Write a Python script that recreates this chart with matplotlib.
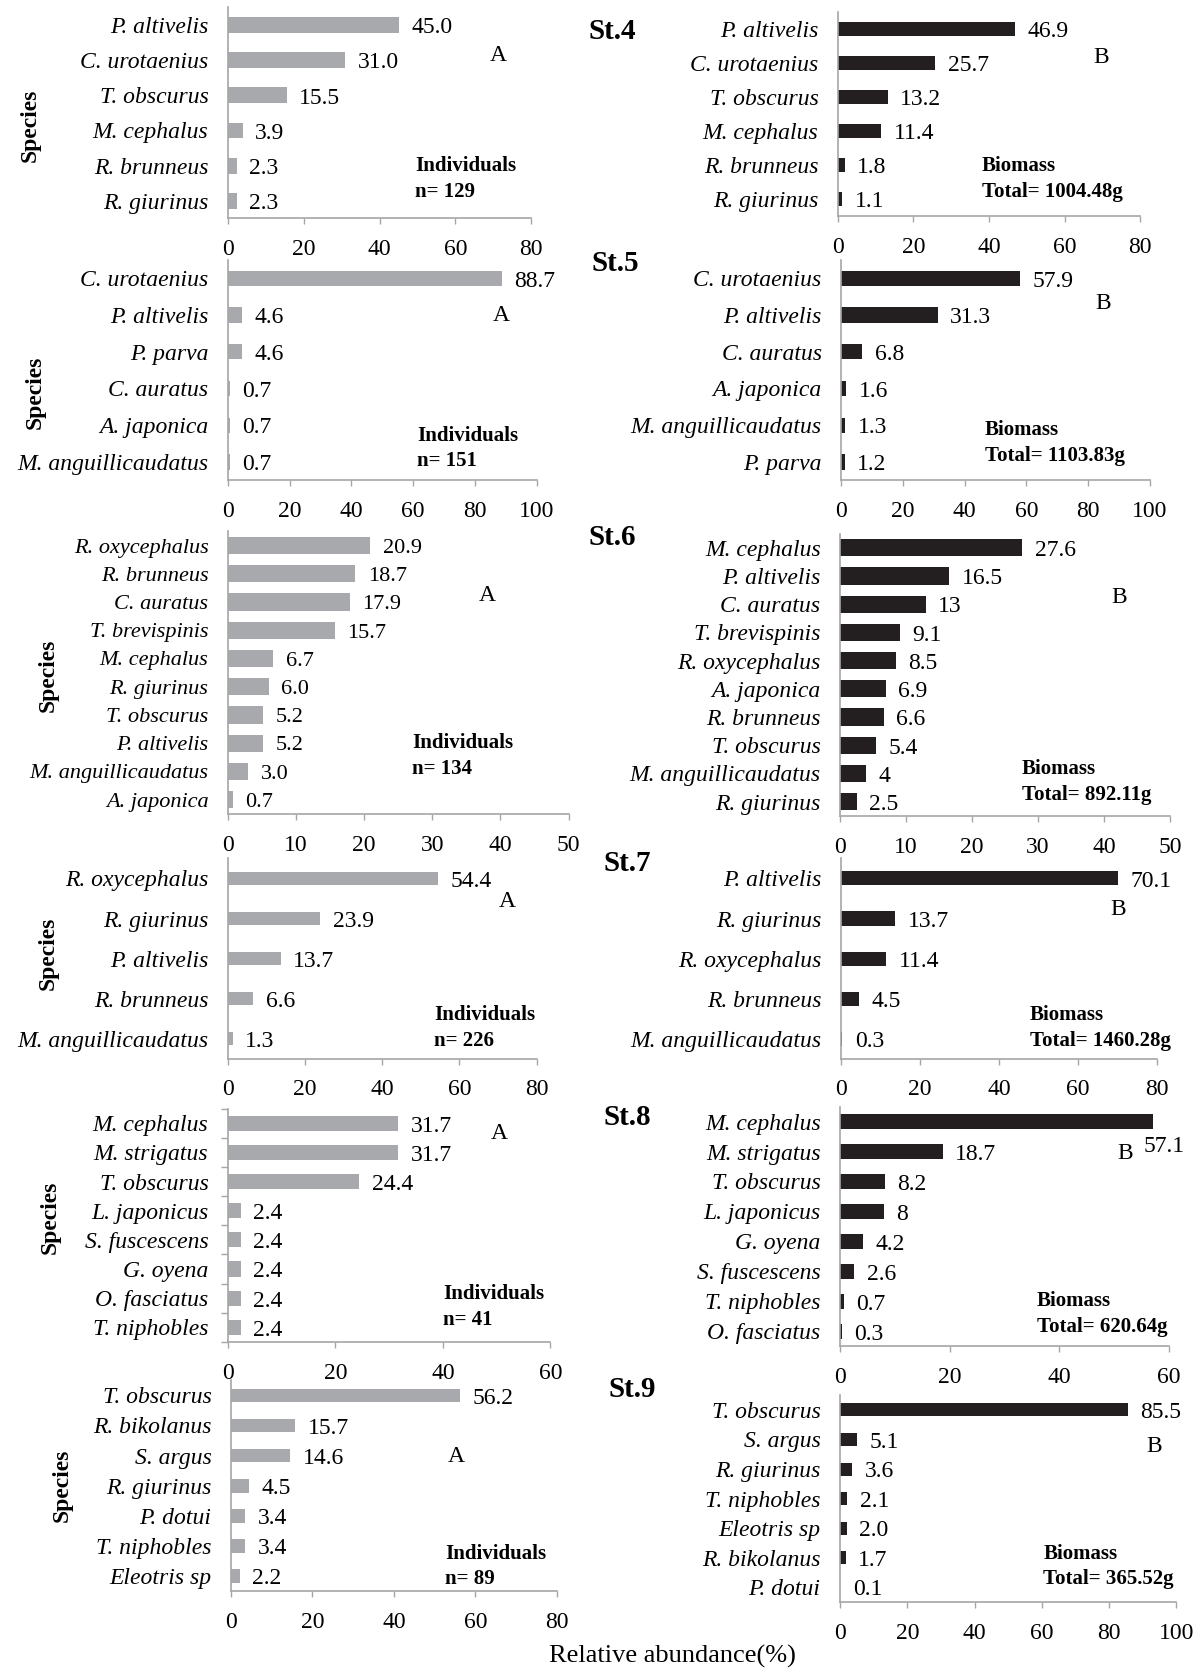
import matplotlib
matplotlib.use("Agg")
import matplotlib.pyplot as plt

plt.rcParams["font.family"] = ["Liberation Serif", "DejaVu Serif"]

GRAY = "#a7a9ac"
BLACK = "#231f20"
AXIS = "#a6a6a6"

# ---- data: (A) individuals, (B) biomass, per station ----
st4_ind_species = ["P. altivelis", "C. urotaenius", "T. obscurus", "M. cephalus", "R. brunneus", "R. giurinus"]
st4_ind_values = [45.0, 31.0, 15.5, 3.9, 2.3, 2.3]
st4_ind_labels = ["45.0", "31.0", "15.5", "3.9", "2.3", "2.3"]
st4_bio_species = ["P. altivelis", "C. urotaenius", "T. obscurus", "M. cephalus", "R. brunneus", "R. giurinus"]
st4_bio_values = [46.9, 25.7, 13.2, 11.4, 1.8, 1.1]
st4_bio_labels = ["46.9", "25.7", "13.2", "11.4", "1.8", "1.1"]

st5_ind_species = ["C. urotaenius", "P. altivelis", "P. parva", "C. auratus", "A. japonica", "M. anguillicaudatus"]
st5_ind_values = [88.7, 4.6, 4.6, 0.7, 0.7, 0.7]
st5_ind_labels = ["88.7", "4.6", "4.6", "0.7", "0.7", "0.7"]
st5_bio_species = ["C. urotaenius", "P. altivelis", "C. auratus", "A. japonica", "M. anguillicaudatus", "P. parva"]
st5_bio_values = [57.9, 31.3, 6.8, 1.6, 1.3, 1.2]
st5_bio_labels = ["57.9", "31.3", "6.8", "1.6", "1.3", "1.2"]

st6_ind_species = ["R. oxycephalus", "R. brunneus", "C. auratus", "T. brevispinis", "M. cephalus",
                   "R. giurinus", "T. obscurus", "P. altivelis", "M. anguillicaudatus", "A. japonica"]
st6_ind_values = [20.9, 18.7, 17.9, 15.7, 6.7, 6.0, 5.2, 5.2, 3.0, 0.7]
st6_ind_labels = ["20.9", "18.7", "17.9", "15.7", "6.7", "6.0", "5.2", "5.2", "3.0", "0.7"]
st6_bio_species = ["M. cephalus", "P. altivelis", "C. auratus", "T. brevispinis", "R. oxycephalus",
                   "A. japonica", "R. brunneus", "T. obscurus", "M. anguillicaudatus", "R. giurinus"]
st6_bio_values = [27.6, 16.5, 13, 9.1, 8.5, 6.9, 6.6, 5.4, 4, 2.5]
st6_bio_labels = ["27.6", "16.5", "13", "9.1", "8.5", "6.9", "6.6", "5.4", "4", "2.5"]

st7_ind_species = ["R. oxycephalus", "R. giurinus", "P. altivelis", "R. brunneus", "M. anguillicaudatus"]
st7_ind_values = [54.4, 23.9, 13.7, 6.6, 1.3]
st7_ind_labels = ["54.4", "23.9", "13.7", "6.6", "1.3"]
st7_bio_species = ["P. altivelis", "R. giurinus", "R. oxycephalus", "R. brunneus", "M. anguillicaudatus"]
st7_bio_values = [70.1, 13.7, 11.4, 4.5, 0.3]
st7_bio_labels = ["70.1", "13.7", "11.4", "4.5", "0.3"]

st8_ind_species = ["M. cephalus", "M. strigatus", "T. obscurus", "L. japonicus", "S. fuscescens",
                   "G. oyena", "O. fasciatus", "T. niphobles"]
st8_ind_values = [31.7, 31.7, 24.4, 2.4, 2.4, 2.4, 2.4, 2.4]
st8_ind_labels = ["31.7", "31.7", "24.4", "2.4", "2.4", "2.4", "2.4", "2.4"]
st8_bio_species = ["M. cephalus", "M. strigatus", "T. obscurus", "L. japonicus", "G. oyena",
                   "S. fuscescens", "T. niphobles", "O. fasciatus"]
st8_bio_values = [57.1, 18.7, 8.2, 8, 4.2, 2.6, 0.7, 0.3]
st8_bio_labels = ["57.1", "18.7", "8.2", "8", "4.2", "2.6", "0.7", "0.3"]

st9_ind_species = ["T. obscurus", "R. bikolanus", "S. argus", "R. giurinus", "P. dotui", "T. niphobles", "Eleotris sp"]
st9_ind_values = [56.2, 15.7, 14.6, 4.5, 3.4, 3.4, 2.2]
st9_ind_labels = ["56.2", "15.7", "14.6", "4.5", "3.4", "3.4", "2.2"]
st9_bio_species = ["T. obscurus", "S. argus", "R. giurinus", "T. niphobles", "Eleotris sp", "R. bikolanus", "P. dotui"]
st9_bio_values = [85.5, 5.1, 3.6, 2.1, 2.0, 1.7, 0.1]
st9_bio_labels = ["85.5", "5.1", "3.6", "2.1", "2.0", "1.7", "0.1"]

stations = ["St.4", "St.5", "St.6", "St.7", "St.8", "St.9"]
n_individuals = [129, 151, 134, 226, 41, 89]
total_biomass = ["1004.48g", "1103.83g", "892.11g", "1460.28g", "620.64g", "365.52g"]
xmax_ind = [80, 100, 50, 80, 60, 80]
xmax_bio = [80, 100, 50, 80, 60, 100]
xstep_ind = [20, 20, 10, 20, 20, 20]
xstep_bio = [20, 20, 10, 20, 20, 20]

ind_species = [st4_ind_species, st5_ind_species, st6_ind_species, st7_ind_species, st8_ind_species, st9_ind_species]
ind_values = [st4_ind_values, st5_ind_values, st6_ind_values, st7_ind_values, st8_ind_values, st9_ind_values]
ind_labels = [st4_ind_labels, st5_ind_labels, st6_ind_labels, st7_ind_labels, st8_ind_labels, st9_ind_labels]
bio_species = [st4_bio_species, st5_bio_species, st6_bio_species, st7_bio_species, st8_bio_species, st9_bio_species]
bio_values = [st4_bio_values, st5_bio_values, st6_bio_values, st7_bio_values, st8_bio_values, st9_bio_values]
bio_labels = [st4_bio_labels, st5_bio_labels, st6_bio_labels, st7_bio_labels, st8_bio_labels, st9_bio_labels]

# ---- layout in reference pixels (1129 x 1568 grid) ----
W, H = 1129.0, 1568.0
# x0, x1, top, bottom, bar height, tick fontsize
left_boxes = [(214, 499, 7, 205, 0.45, 17), (214, 504, 244, 451, 0.42, 17),
              (214, 534, 499, 764, 0.61, 16), (214, 504, 806, 994, 0.34, 17),
              (214, 517, 1041, 1260, 0.52, 17), (217, 523, 1296, 1494, 0.45, 17)]
right_boxes = [(787, 1071, 11, 203, 0.42, 17), (790, 1080, 244, 451, 0.42, 17),
               (789, 1099, 501, 766, 0.61, 17), (790, 1087, 806, 994, 0.35, 17),
               (789, 1098, 1039, 1264, 0.50, 17), (789, 1105, 1310, 1504, 0.44, 17)]
# letter A/B, note positions, station label, species label
a_pos = [(468, 52), (471, 296), (458, 559), (476, 846), (469, 1064), (429, 1368)]
b_pos = [(1034, 54), (1036, 285), (1051, 561), (1050, 854), (1057, 1083), (1084, 1358)]
ind_note = [(390, 156), (392, 409), (387, 698), (408, 953), (416, 1215), (418, 1459)]
bio_note = [(922, 156), (925, 404), (960, 722), (967, 953), (974, 1222), (980, 1459)]
st_pos = [(553, 30), (556, 247), (553, 505), (567, 811), (567, 1049), (572, 1305)]
sp_pos = [(28, 118), (33, 368), (45, 634), (45, 895), (47, 1143), (58, 1395)]


def fx(x):
    return x / W


def fy(y):
    return 1 - y / H


def draw_panel(fig, box, species, values, labels, xmax, step, color, yticks_out=False):
    x0, x1, top, bot, bh, fs = box
    ax = fig.add_axes([fx(x0), fy(bot), fx(x1) - fx(x0), (bot - top) / H])
    pos = list(range(len(species)))
    ax.barh(pos, values, height=bh, color=color)
    ax.set_ylim(len(species) - 0.5, -0.5)
    ax.set_xlim(0, xmax)
    ax.set_yticks(pos)
    ax.set_yticklabels(species, fontstyle="italic", fontsize=fs)
    ax.set_xticks(list(range(0, xmax + 1, step)))
    ax.tick_params(axis="x", labelsize=17, length=4, width=1, color=AXIS, pad=11)
    ax.tick_params(axis="y", length=0, pad=14)
    if yticks_out:
        ax.set_yticks([p - 0.5 for p in pos] + [len(pos) - 0.5], minor=True)
        ax.tick_params(axis="y", which="minor", length=5, width=1, color=AXIS)
    for s in ["top", "right"]:
        ax.spines[s].set_visible(False)
    for s in ["left", "bottom"]:
        ax.spines[s].set_color(AXIS)
        ax.spines[s].set_linewidth(1.2)
    for p, v, lab in zip(pos, values, labels):
        if v > 0.9 * xmax:
            ax.annotate(lab, (v, p), xytext=(-7, -18), textcoords="offset points",
                        ha="left", va="center", fontsize=fs)
        else:
            ax.annotate(lab, (v, p), xytext=(9, -2), textcoords="offset points",
                        ha="left", va="center", fontsize=fs)
    return ax


fig = plt.figure(figsize=(12.02, 16.70), dpi=100)

for i in range(6):
    draw_panel(fig, left_boxes[i], ind_species[i], ind_values[i], ind_labels[i],
               xmax_ind[i], xstep_ind[i], GRAY, yticks_out=(i == 4))
    draw_panel(fig, right_boxes[i], bio_species[i], bio_values[i], bio_labels[i],
               xmax_bio[i], xstep_bio[i], BLACK)

    fig.text(fx(a_pos[i][0]), fy(a_pos[i][1]), "A", ha="center", va="center", fontsize=17)
    fig.text(fx(b_pos[i][0]), fy(b_pos[i][1]), "B", ha="center", va="center", fontsize=17)
    fig.text(fx(ind_note[i][0]), fy(ind_note[i][1]), "Individuals",
             ha="left", va="center", fontsize=15, fontweight="bold")
    fig.text(fx(ind_note[i][0]), fy(ind_note[i][1] + 24), "n= %d" % n_individuals[i],
             ha="left", va="center", fontsize=15, fontweight="bold")
    fig.text(fx(bio_note[i][0]), fy(bio_note[i][1]), "Biomass",
             ha="left", va="center", fontsize=15, fontweight="bold")
    fig.text(fx(bio_note[i][0]), fy(bio_note[i][1] + 24), "Total= " + total_biomass[i],
             ha="left", va="center", fontsize=15, fontweight="bold")
    fig.text(fx(st_pos[i][0]), fy(st_pos[i][1]), stations[i],
             ha="left", va="center", fontsize=21, fontweight="bold")
    fig.text(fx(sp_pos[i][0]), fy(sp_pos[i][1]), "Species", rotation=90,
             ha="center", va="center", fontsize=17, fontweight="bold")

fig.text(fx(632), fy(1555), "Relative abundance(%)", ha="center", va="center", fontsize=19)

fig.savefig("out.png", dpi=100)
